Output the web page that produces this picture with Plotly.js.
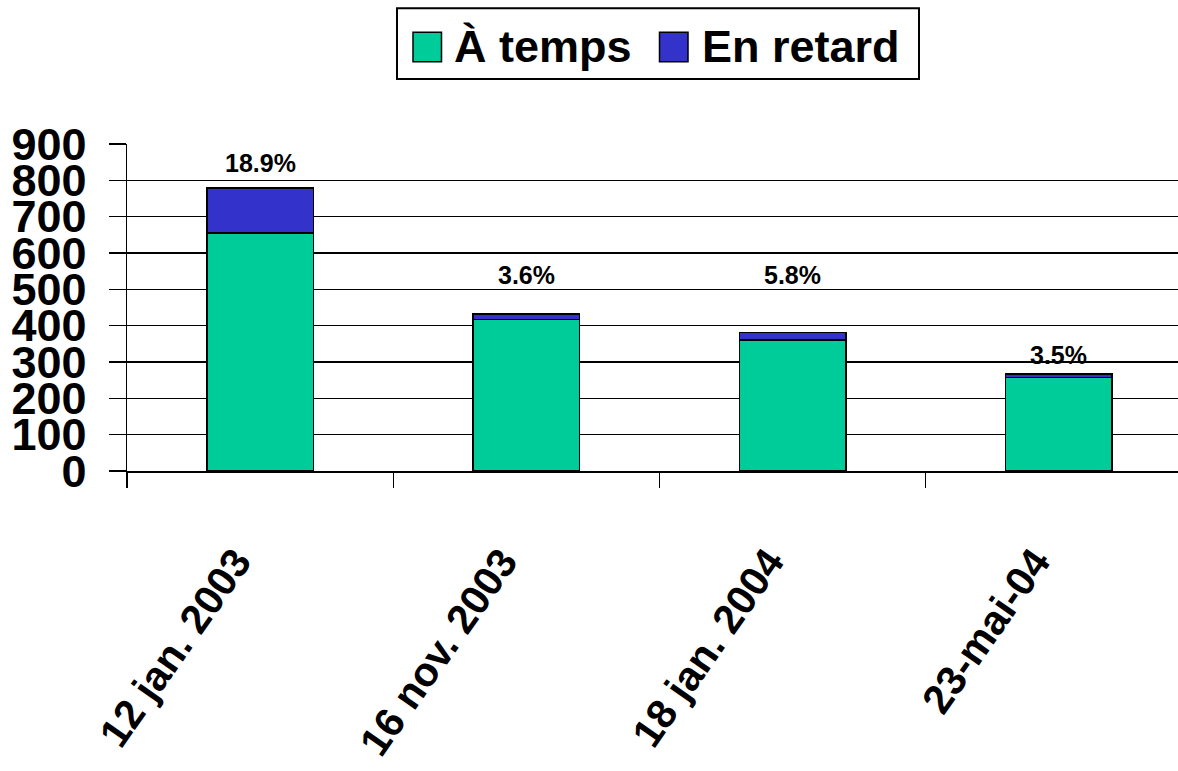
<!DOCTYPE html>
<html>
<head>
<meta charset="utf-8">
<script src="https://cdn.plot.ly/plotly-3.0.1.min.js"></script>
<style>
html,body{margin:0;padding:0;background:#fff;}
#chart{width:1178px;height:771px;}
</style>
</head>
<body>
<div id="chart"></div>
<script>
// ---- data ----
var categories = ["12 jan. 2003", "16 nov. 2003", "18 jan. 2004", "23-mai-04"];
var seriesNames = ["À temps", "En retard"];
var onTime = [655, 417, 360, 258];
var late = [124, 15, 21, 9];
var pctLabels = ["18.9%", "3.6%", "5.8%", "3.5%"];
var yTickVals = [0, 100, 200, 300, 400, 500, 600, 700, 800, 900];

// ---- layout helpers ----
var pctLabelY = [847, 540, 540, 320];
var colors = ["#00CC99", "#3333CC"];
var FONT = 'Arial, "Liberation Sans", sans-serif';

var W = 1178, H = 771;
var mL = 127, mR = 0, mT = 144, mB = 771 - 471.5;
var plotW = W - mL - mR, plotH = H - mT - mB;
function px(x) { return (x - mL) / plotW; }
function py(y) { return (H - mB - y) / plotH; }

var traces = [
  {type: "bar", name: seriesNames[0], x: categories, y: onTime,
   marker: {color: colors[0], line: {color: "#000", width: 1.5}}, showlegend: false, hoverinfo: "x+y+name"},
  {type: "bar", name: seriesNames[1], x: categories, y: late,
   marker: {color: colors[1], line: {color: "#000", width: 1.5}}, showlegend: false, hoverinfo: "x+y+name"}
];

var annotations = categories.map(function (c, i) {
  return {x: c, y: pctLabelY[i], xref: "x", yref: "y", text: pctLabels[i], showarrow: false,
          font: {family: FONT, size: 25, color: "#000", weight: "bold"}, xanchor: "center", yanchor: "middle"};
});

// custom legend (large swatches)
var shapes = [
  {type: "rect", xref: "paper", yref: "paper", x0: px(397), x1: px(919), y0: py(79), y1: py(8),
   line: {color: "#000", width: 2}, fillcolor: "rgba(0,0,0,0)"}
];
var legendItems = [
  {sq: 413, tx: 452},
  {sq: 659.5, tx: 700}
];
legendItems.forEach(function (it, i) {
  shapes.push({type: "rect", xref: "paper", yref: "paper", x0: px(it.sq), x1: px(it.sq + 28.5),
               y0: py(61.5), y1: py(32), line: {color: "#000", width: 1.5}, fillcolor: colors[i]});
  annotations.push({xref: "paper", yref: "paper", x: px(it.tx), y: py(46), text: seriesNames[i],
                    showarrow: false, xanchor: "left", yanchor: "middle",
                    font: {family: FONT, size: 45, color: "#000", weight: "bold"}});
});

var layout = {
  width: W, height: H,
  margin: {l: mL, r: mR, t: mT, b: mB, pad: 0},
  paper_bgcolor: "#fff", plot_bgcolor: "#fff",
  barmode: "stack", bargap: 0.6,
  showlegend: false,
  font: {family: FONT, color: "#000"},
  xaxis: {
    type: "category", range: [-0.5, 3.447], fixedrange: true,
    showline: true, linecolor: "#000", linewidth: 2,
    ticks: "outside", tickson: "boundaries", ticklen: 15, tickwidth: 1.3, tickcolor: "#000",
    showgrid: false, zeroline: false,
    tickangle: -55, ticklabelstandoff: 48, ticklabelshift: -24,
    tickfont: {family: FONT, size: 41, color: "#000", weight: "bold"}
  },
  yaxis: {
    range: [0, 900], tickvals: yTickVals, ticktext: yTickVals.map(String), fixedrange: true,
    showline: true, linecolor: "#000", linewidth: 1.5,
    ticks: "outside", ticklen: 17, tickwidth: 1.5, tickcolor: "#000",
    showgrid: true, gridcolor: "#000", gridwidth: 1.3, zeroline: false,
    ticklabelstandoff: 13,
    tickfont: {family: FONT, size: 45, color: "#000", weight: "bold"}
  },
  annotations: annotations,
  shapes: shapes
};

Plotly.newPlot("chart", traces, layout, {displayModeBar: false, staticPlot: true});
</script>
</body>
</html>
